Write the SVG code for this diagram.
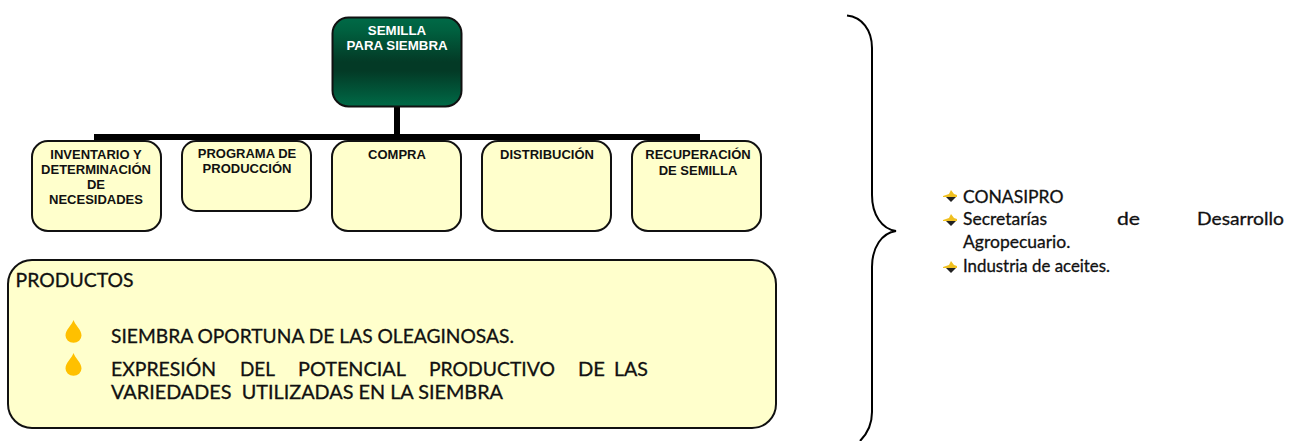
<svg xmlns="http://www.w3.org/2000/svg" width="1295" height="441" viewBox="0 0 1295 441">
<style>
.t{font-family:"Liberation Sans",Arial,sans-serif;font-weight:700;font-size:13px;fill:#111;text-anchor:middle}
.h{font-family:"Liberation Sans",Arial,sans-serif;font-weight:700;font-size:13.300px;fill:#fff;text-anchor:middle}
.b{fill:#ffffcc;stroke:#111;stroke-width:2}
.p{font-family:Lato,"Noto Sans",sans-serif;font-size:19px;fill:#111;stroke:#111;stroke-width:.3}
.r{font-family:Lato,"Noto Sans",sans-serif;font-size:17.500px;fill:#111;stroke:#111;stroke-width:.3}
.c{fill:none;stroke:#000}
</style>
<defs>
<linearGradient id="g" x1="0" y1="0" x2="0" y2="1">
<stop offset="0" stop-color="#006a47"/><stop offset="0.15" stop-color="#00603f"/><stop offset="0.5" stop-color="#033a26"/><stop offset="0.6" stop-color="#033a26"/><stop offset="1" stop-color="#006a47"/>
</linearGradient>
<path id="drop" d="M0 0C1.500 5 8 9.500 8 15.500A8 7.300 0 0 1 -8 15.500C-8 9.500 -1.500 5 0 0Z" fill="#ffc000"/>
<g id="arr"><path d="M-7 0L-1 -2L1 -6L4 -2L7 -1L7 1L-7 1Z" fill="#f0c020"/><path d="M-4 1L6 1L1 6Z" fill="#222"/></g>
</defs>
<g id="connectors">
<path class="c" stroke-width="6" d="M397 107V137"/>
<path class="c" stroke-width="6" d="M94 137H700"/>
<path class="c" stroke-width="2" d="M847 15.500C862 17 872 30 872 48V195C872 215 882 229 896 231C882 233 872 247 872 267V412C872 425 867 434 860 441"/>
</g>
<g id="n-semilla"><rect x="332.500" y="17.500" width="129" height="89" rx="16" fill="url(#g)" stroke="#111" stroke-width="2"/><text class="h" x="397" y="35">SEMILLA</text><text class="h" x="397" y="50">PARA SIEMBRA</text></g>
<g id="n-inventario"><rect class="b" x="32" y="141" width="129" height="90" rx="16"/><text class="t" x="96" y="159">INVENTARIO Y</text><text class="t" x="96" y="174">DETERMINACIÓN</text><text class="t" x="96" y="189">DE</text><text class="t" x="96" y="204">NECESIDADES</text></g>
<g id="n-programa"><rect class="b" x="182" y="141" width="129" height="70" rx="14"/><text class="t" x="247" y="158">PROGRAMA DE</text><text class="t" x="247" y="173">PRODUCCIÓN</text></g>
<g id="n-compra"><rect class="b" x="332" y="141" width="129" height="90" rx="16"/><text class="t" x="397" y="159">COMPRA</text></g>
<g id="n-distribucion"><rect class="b" x="482" y="141" width="129" height="90" rx="16"/><text class="t" x="547" y="159">DISTRIBUCIÓN</text></g>
<g id="n-recuperacion"><rect class="b" x="632" y="141" width="129" height="90" rx="16"/><text class="t" x="698" y="159">RECUPERACIÓN</text><text class="t" x="698" y="175">DE SEMILLA</text></g>
<g id="n-productos"><rect x="8" y="260" width="768" height="168" rx="24" fill="#ffffcc" stroke="#111" stroke-width="2"/>
<text class="p" x="15.500" y="287" textLength="118" lengthAdjust="spacingAndGlyphs">PRODUCTOS</text>
<use href="#drop" x="73.500" y="320"/><use href="#drop" x="73.500" y="353"/>
<text class="p" x="111" y="343" textLength="403" lengthAdjust="spacingAndGlyphs">SIEMBRA OPORTUNA DE LAS OLEAGINOSAS.</text>
<text class="p" x="111" y="376" textLength="105" lengthAdjust="spacingAndGlyphs">EXPRESIÓN</text><text class="p" x="240" y="376" textLength="35" lengthAdjust="spacingAndGlyphs">DEL</text><text class="p" x="298" y="376" textLength="108" lengthAdjust="spacingAndGlyphs">POTENCIAL</text><text class="p" x="429" y="376" textLength="126" lengthAdjust="spacingAndGlyphs">PRODUCTIVO</text><text class="p" x="578" y="376" textLength="27" lengthAdjust="spacingAndGlyphs">DE</text><text class="p" x="614" y="376" textLength="34" lengthAdjust="spacingAndGlyphs">LAS</text>
<text class="p" x="111" y="399" textLength="392" lengthAdjust="spacingAndGlyphs" xml:space="preserve">VARIEDADES  UTILIZADAS EN LA SIEMBRA</text></g>
<g id="n-actores">
<use href="#arr" x="950" y="196"/><use href="#arr" x="950" y="220"/><use href="#arr" x="950" y="267"/>
<text class="r" x="963" y="203">CONASIPRO</text>
<text class="r" x="963" y="225">Secretarías</text><text class="r" x="1117" y="225" textLength="23" lengthAdjust="spacingAndGlyphs">de</text><text class="r" x="1197" y="225" textLength="87" lengthAdjust="spacingAndGlyphs">Desarrollo</text>
<text class="r" x="963" y="248">Agropecuario.</text>
<text class="r" x="963" y="272" textLength="147" lengthAdjust="spacingAndGlyphs">Industria de aceites.</text></g>
</svg>
